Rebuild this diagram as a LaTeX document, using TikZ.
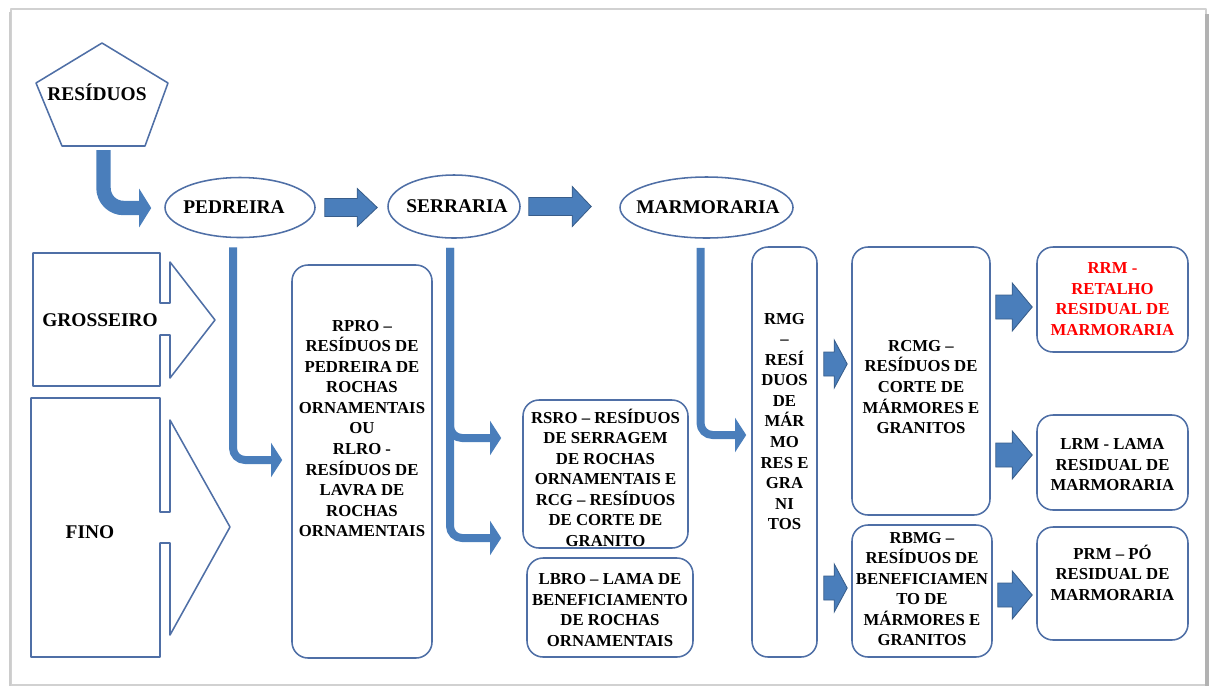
\documentclass[tikz,border=0pt]{standalone}
\usepackage{fontspec}
\setmainfont{Liberation Serif}
\usetikzlibrary{arrows.meta,calc,shapes.geometric}
\definecolor{contorno}{RGB}{79,111,166}
\definecolor{azulseta}{RGB}{74,126,187}
\definecolor{bordaseta}{RGB}{56,93,138}
\begin{document}
\begin{tikzpicture}[x=0.025cm, y=-0.025cm, line join=round, font=\bfseries\fontsize{11.9}{14.6}\selectfont,
	caixa/.style 2 args={draw=contorno, line width=1.1pt, rounded corners=0.4cm, minimum width=#1*0.025cm, minimum height=#2*0.025cm, inner sep=0pt},
	elipse/.style 2 args={draw=contorno, line width=1.1pt, ellipse, minimum width=#1*0.025cm, minimum height=#2*0.025cm, inner sep=0pt},
	texto/.style={align=center, inner sep=0pt},
	grande/.style={font=\bfseries\fontsize{13.8}{16}\selectfont},
	fina/.style={draw=azulseta, line width=0.2cm, rounded corners=0.3cm, -{Triangle[length=0.28cm, width=0.85cm]}},
	grossa/.style={draw=azulseta, line width=0.36cm, rounded corners=0.5cm, -{Triangle[length=0.3cm, width=0.95cm]}},
	bloco/.style n args={3}{fill=azulseta, draw=bordaseta, line width=0.6pt, line join=miter,
		to path={let \p1=(\tikztostart), \p2=(\tikztotarget) in
			(\x1,\y1+#1*0.025cm) -- (\x2-#3*0.025cm,\y1+#1*0.025cm) -- (\x2-#3*0.025cm,\y1+#2*0.025cm) -- (\x2,\y1)
			-- (\x2-#3*0.025cm,\y1-#2*0.025cm) -- (\x2-#3*0.025cm,\y1-#1*0.025cm) -- (\x1,\y1-#1*0.025cm) -- cycle}}]
	\useasboundingbox (0,0) rectangle (1211,687);
	\draw[black!18, line width=0.8pt] (11,9) rectangle (1206,685);
	\draw[black!30, line width=2.2pt] (1207,14) -- (1207,686);
	\draw[black!20, line width=1.6pt] (10,12) -- (10,686);

	\draw[contorno, line width=1.1pt] (102,43) -- (168,83) -- (145,146) -- (62,146) -- (36,83) -- cycle;
	\node[grande] (res) at (97,92) {RESÍDUOS};

	\draw[contorno, line width=1.1pt] (160,303) -- (170,303) -- (170,262) -- (215,320) -- (170,378) -- (170,335) -- (160,335) -- (160,386) -- (33,386) -- (33,253) -- (160,253) -- cycle;
	\node[grande] (gros) at (100,320) {GROSSEIRO};
	\draw[contorno, line width=1.1pt] (160,512) -- (170,512) -- (170,420) -- (230,527) -- (170,635) -- (170,543) -- (160,543) -- (160,657) -- (31,657) -- (31,398) -- (160,398) -- cycle;
	\node[grande] (fino) at (90,532) {FINO};

	\node[elipse={150}{60}] (pedreira) at (240,207.5) {};
	\node[grande] (tpedreira) at (234,207.5) {PEDREIRA};
	\node[elipse={132}{63}] (serraria) at (454,206.5) {};
	\node[grande] (tserraria) at (457,206.5) {SERRARIA};
	\node[elipse={173}{61}] (marmoraria) at (706.5,207.5) {};
	\node[grande] (tmarmoraria) at (708,207.5) {MARMORARIA};

	\node[caixa={140}{393}] (rpro) at (362,461.5) {};
	\node[texto] (trpro) at (362,428.5) {RPRO –\\RESÍDUOS DE\\PEDREIRA DE\\ROCHAS\\ORNAMENTAIS\\OU\\RLRO -\\RESÍDUOS DE\\LAVRA DE\\ROCHAS\\ORNAMENTAIS};
	\node[caixa={165}{148}] (rsro) at (605.5,474) {};
	\node[texto] (trsro) at (605.5,477.5) {RSRO – RESÍDUOS\\DE SERRAGEM\\DE ROCHAS\\ORNAMENTAIS E\\RCG – RESÍDUOS\\DE CORTE DE\\GRANITO};
	\node[caixa={166}{99}] (lbro) at (610,607.5) {};
	\node[texto] (tlbro) at (610,610) {LBRO – LAMA DE\\BENEFICIAMENTO\\DE ROCHAS\\ORNAMENTAIS};
	\node[caixa={65}{410}] (rmg) at (784.5,452) {};
	\node[texto] (trmg) at (784.5,421.5) {RMG\\–\\RESÍ\\DUOS\\DE\\MÁR\\MO\\RES E\\GRA\\NI\\TOS};
	\node[caixa={138}{268}] (rcmg) at (921,381) {};
	\node[texto] (trcmg) at (921,387) {RCMG –\\RESÍDUOS DE\\CORTE DE\\MÁRMORES E\\GRANITOS};
	\node[caixa={140}{132}] (rbmg) at (922,591) {};
	\node[texto] (trbmg) at (922,589) {RBMG –\\RESÍDUOS DE\\BENEFICIAMEN\\TO DE\\MÁRMORES E\\GRANITOS};
	\node[caixa={151}{105}] (rrm) at (1112.5,299.5) {};
	\node[texto, text=red] (trrm) at (1112.5,299) {RRM -\\RETALHO\\RESIDUAL DE\\MARMORARIA};
	\node[caixa={151}{95}] (lrm) at (1112.5,462.5) {};
	\node[texto] (tlrm) at (1112.5,465) {LRM - LAMA\\RESIDUAL DE\\MARMORARIA};
	\node[caixa={151}{113}] (prm) at (1112.5,583.5) {};
	\node[texto] (tprm) at (1112.5,572.5) {PRM – PÓ\\RESIDUAL DE\\MARMORARIA};

	\draw[grossa] ($(res)+(6.5,58)$) |- ($(pedreira.west)+(-13,0.5)$);
	\draw[bloco={9}{19}{20}] ($(pedreira.east)+(9,0)$) to ($(serraria.west)+(-10,0)$);
	\draw[bloco={9}{20}{19}] ($(serraria.east)+(8,0)$) to ($(marmoraria.west)+(-28,0)$);

	\draw[fina] ($(pedreira.south)+(-7,9)$) |- ($(rpro.west)+(-9,-1.5)$);
	\draw[fina] ($(serraria.south)+(-4,9)$) |- ($(rsro.west)+(-21,-36)$);
	\draw[fina] ($(serraria.south)+(-4,9)$) |- ($(rsro.west)+(-21,64)$);
	\draw[fina] ($(marmoraria.south)+(-6,9)$) |- ($(rmg.west)+(-5,-17)$);

	\foreach \a/\b/\dx/\dy/\h in {rmg/rcmg/6/-88/13, rmg/rbmg/6/136/13, rcmg/rrm/5/-74/20, rcmg/lrm/5/74/20, rbmg/prm/5/4/20}
		\draw[bloco={12}{24}{\h}] ($(\a.east)+(\dx,\dy)$) to ($(\b.west)+(-4,0)$);
\end{tikzpicture}
\end{document}
